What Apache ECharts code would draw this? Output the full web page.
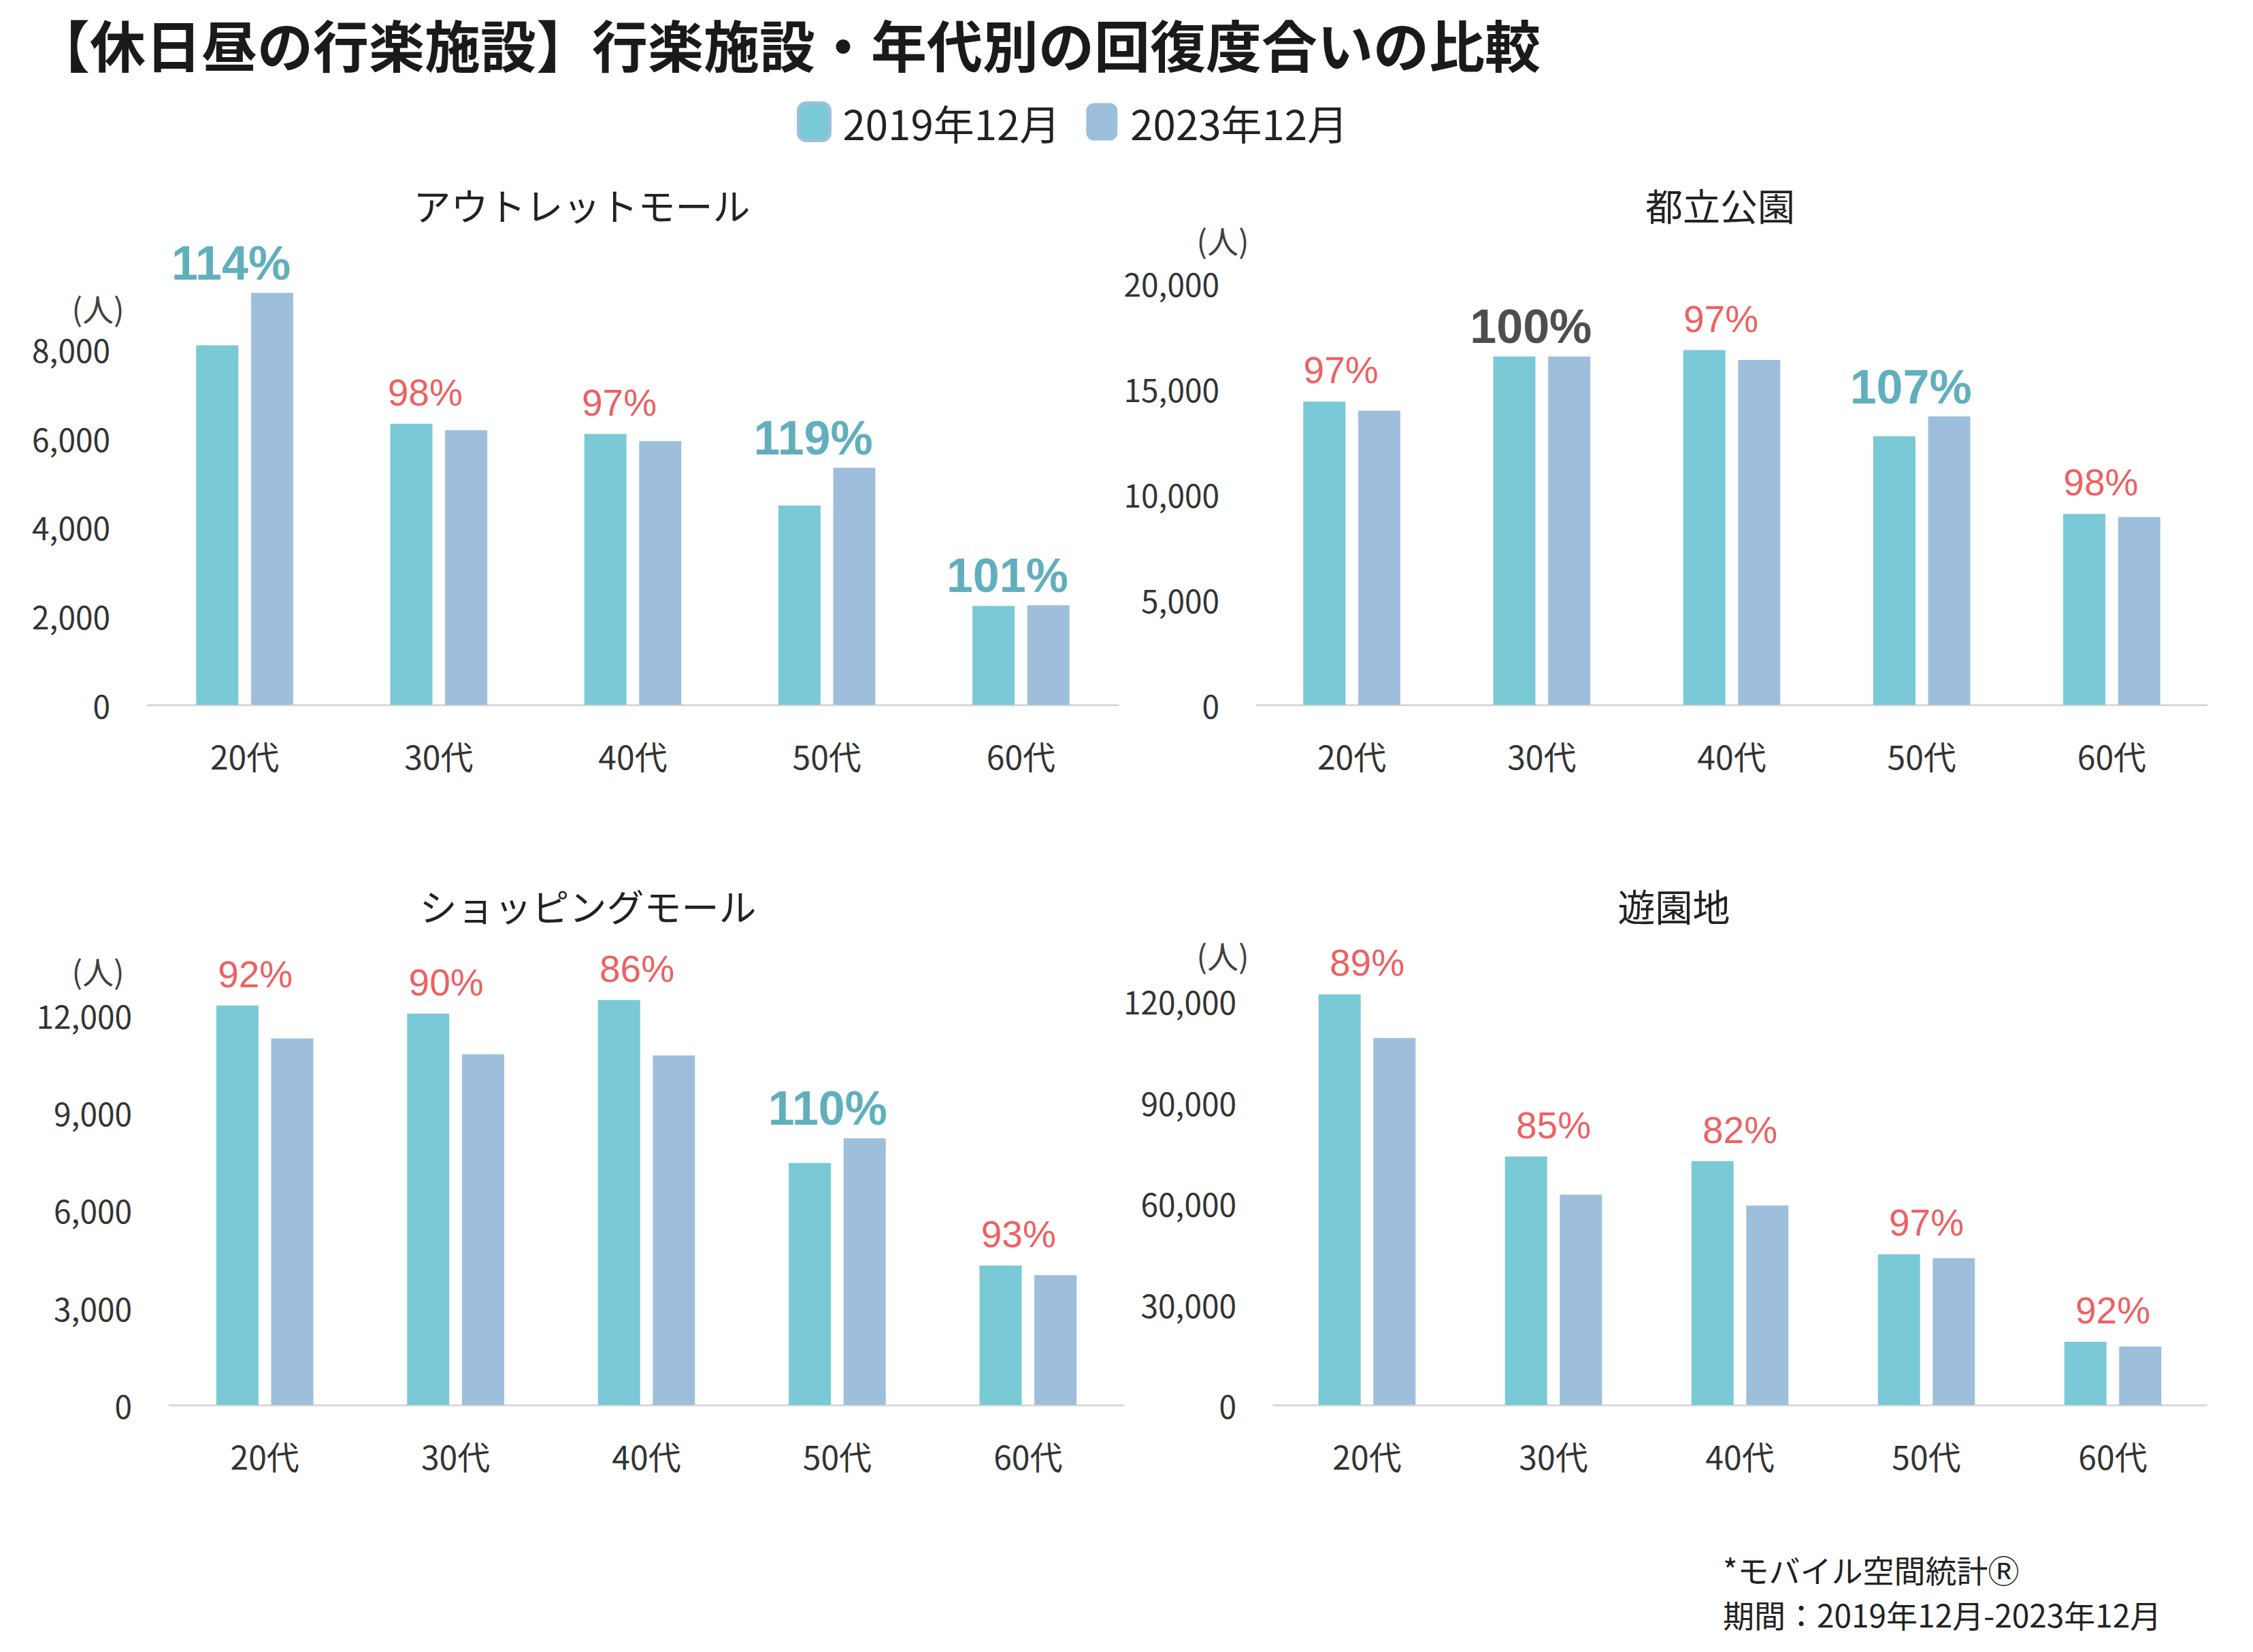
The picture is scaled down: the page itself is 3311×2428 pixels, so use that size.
<!DOCTYPE html>
<html lang="ja">
<head>
<meta charset="utf-8">
<title>行楽施設・年代別の回復度合いの比較</title>
<script src="https://cdn.jsdelivr.net/npm/echarts@6/dist/echarts.min.js"></script>
<style>
    html, body { margin: 0; padding: 0; background: #fff; }
    #chart { width: 3311px; height: 2428px; }
</style>
</head>
<body>
<div id="chart"></div>
<script>
const ages = ['20代', '30代', '40代', '50代', '60代'];
const seriesNames = ['2019年12月', '2023年12月'];

// アウトレットモール
const outlet2019 = [8080, 6320, 6090, 4480, 2225];
const outlet2023 = [9260, 6175, 5930, 5330, 2240];
const outletRate = [114, 98, 97, 119, 101];

// 都立公園
const park2019 = [14380, 16520, 16820, 12730, 9060];
const park2023 = [13955, 16520, 16355, 13675, 8915];
const parkRate = [97, 100, 97, 107, 98];

// ショッピングモール
const mall2019 = [12290, 12040, 12460, 7445, 4290];
const mall2023 = [11275, 10790, 10755, 8205, 3990];
const mallRate = [92, 90, 86, 110, 93];

// 遊園地
const amuse2019 = [121980, 73820, 72430, 44780, 18770];
const amuse2023 = [109050, 62500, 59250, 43610, 17380];
const amuseRate = [89, 85, 82, 97, 92];

const FONT = '"Noto Sans CJK JP", "Noto Sans", sans-serif';
const LABEL_FONT = '"Liberation Sans", Arial, sans-serif';
const C2019 = '#7AC9D6';
const C2023 = '#9EBFDC';

const panels = [
    { title: 'アウトレットモール', a: outlet2019, b: outlet2023, rate: outletRate,
      max: 10000, interval: 2000, showMax: false,
      grid: { left: 217, top: 382, width: 1426, height: 654 },
      titlePos: [855, 300], unitPos: [144, 452], shift: -20 },
    { title: '都立公園', a: park2019, b: park2023, rate: parkRate,
      max: 20000, interval: 5000, showMax: true,
      grid: { left: 1847, top: 416, width: 1396, height: 620 },
      titlePos: [2528, 300], unitPos: [1797, 352], shift: -16 },
    { title: 'ショッピングモール', a: mall2019, b: mall2023, rate: mallRate,
      max: 13500, interval: 3000, showMax: false,
      grid: { left: 249, top: 1420, width: 1402, height: 645 },
      titlePos: [864, 1330], unitPos: [144, 1426], shift: -14 },
    { title: '遊園地', a: amuse2019, b: amuse2023, rate: amuseRate,
      max: 135000, interval: 30000, showMax: false,
      grid: { left: 1872, top: 1397, width: 1370, height: 668 },
      titlePos: [2460, 1330], unitPos: [1797, 1403], shift: 0 }
];

const chart = echarts.init(document.getElementById('chart'), null, { renderer: 'svg' });

const grid = [], xAxis = [], yAxis = [], series = [];
const graphic = [
    { type: 'text', style: { text: '【休日昼の行楽施設】行楽施設・年代別の回復度合いの比較',
        x: 50, y: 63, textAlign: 'left', textVerticalAlign: 'middle',
        font: 'bold 82px ' + FONT, fill: '#1a1a1a' } },
    { type: 'text', style: { text: '*モバイル空間統計Ⓡ', x: 2532, y: 2306,
        textAlign: 'left', textVerticalAlign: 'middle', font: '46px ' + FONT, fill: '#222' } },
    { type: 'text', style: { text: '期間：2019年12月-2023年12月', x: 2532, y: 2372,
        textAlign: 'left', textVerticalAlign: 'middle', font: '46px ' + FONT, fill: '#222' } }
];

panels.forEach((p, i) => {
    grid.push(p.grid);
    xAxis.push({
        type: 'category', gridIndex: i, data: ages,
        axisTick: { show: false },
        axisLine: { lineStyle: { color: '#d9d9d9', width: 3 } },
        axisLabel: { margin: 50, fontSize: 48, color: '#333', fontFamily: FONT }
    });
    yAxis.push({
        type: 'value', gridIndex: i, min: 0, max: p.max, interval: p.interval,
        splitLine: { show: false }, axisLine: { show: false }, axisTick: { show: false },
        axisLabel: {
            margin: 55, fontSize: 46, color: '#333', fontFamily: FONT, showMaxLabel: p.showMax,
            formatter: v => v.toLocaleString('en-US')
        }
    });
    series.push({
        name: seriesNames[0], type: 'bar', xAxisIndex: i, yAxisIndex: i,
        data: p.a, barWidth: 62, barGap: '30%', itemStyle: { color: C2019 }
    });
    series.push({
        name: seriesNames[1], type: 'bar', xAxisIndex: i, yAxisIndex: i,
        data: p.b, barWidth: 62, barGap: '30%', itemStyle: { color: C2023 }
    });
    series.push({
        type: 'scatter', xAxisIndex: i, yAxisIndex: i, z: 5,
        symbolSize: 1, itemStyle: { color: 'rgba(0,0,0,0)' },
        data: ages.map((c, k) => ({ value: Math.max(p.a[k], p.b[k]), rate: p.rate[k] })),
        label: {
            show: true, position: 'top', distance: 8, offset: [p.shift, 0],
            formatter: d => {
                const r = d.data.rate;
                const key = r > 100 ? 'up' : (r === 100 ? 'even' : 'down');
                return '{' + key + '|' + r + '%}';
            },
            rich: {
                up: { color: '#3A9BAD', fontWeight: 'bold', fontSize: 70, fontFamily: LABEL_FONT },
                even: { color: '#222', fontWeight: 'bold', fontSize: 70, fontFamily: LABEL_FONT },
                down: { color: '#E8393C', fontSize: 55, fontFamily: LABEL_FONT, padding: [0, 0, 10, 0] }
            }
        },
        emphasis: { disabled: true }
    });
    graphic.push({ type: 'text', style: { text: p.title, x: p.titlePos[0], y: p.titlePos[1],
        textAlign: 'center', textVerticalAlign: 'middle', font: '55px ' + FONT, fill: '#222' } });
    graphic.push({ type: 'text', style: { text: '(人)', x: p.unitPos[0], y: p.unitPos[1],
        textAlign: 'center', textVerticalAlign: 'middle', font: '46px ' + FONT, fill: '#404040' } });
});

chart.setOption({
    animation: false,
    backgroundColor: '#fff',
    legend: {
        left: 1166, top: 144, itemWidth: 46, itemHeight: 55, itemGap: 38,
        icon: 'roundRect',
        textStyle: { fontSize: 60, color: '#222', fontFamily: FONT, padding: [0, 0, 0, 14] },
        data: [
            { name: seriesNames[0], itemStyle: { borderColor: C2023, borderWidth: 5 } },
            { name: seriesNames[1] }
        ]
    },
    grid: grid,
    xAxis: xAxis,
    yAxis: yAxis,
    series: series,
    graphic: graphic
});
</script>
</body>
</html>
